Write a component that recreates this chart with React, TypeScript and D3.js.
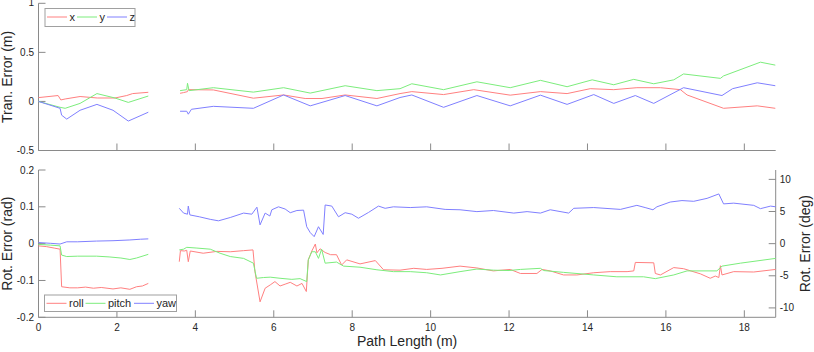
import React from "react";
import * as d3 from "d3";

type P = [number, number] | null;
const GAP: P = null;

// Translation error (m)
const tranX: P[] = [
  [0, 0.039], [0.5, 0.06], [0.57, 0.015], [0.68, 0.025], [1.06, 0.05], [1.5, 0.035], [1.95, 0.035], [2.25, 0.06], [2.4, 0.08], [2.8, 0.093],
  GAP,
  [3.61, 0.083], [3.7, 0.09], [3.8, 0.1], [3.82, 0.12], [4.46, 0.117], [5.48, 0.033], [6.25, 0.066], [6.8, 0.03], [7.23, 0.03], [7.82, 0.066],
  [8.63, 0.03], [9.22, 0.08], [9.52, 0.1], [10.33, 0.07], [11.1, 0.12], [12.03, 0.064], [12.8, 0.1], [13.48, 0.08], [14.07, 0.13], [14.67, 0.12],
  [15.26, 0.14], [15.86, 0.14], [16.37, 0.12], [16.54, 0.066], [17.47, -0.07], [18.33, -0.045], [18.79, -0.07],
];
const tranY: P[] = [
  [0, 0], [0.55, -0.06], [0.68, -0.07], [1.06, -0.02], [1.49, 0.08], [1.95, 0.035], [2.29, -0.01], [2.8, 0.055],
  GAP,
  [3.61, 0.11], [3.78, 0.12], [3.8, 0.185], [3.84, 0.11], [4.46, 0.14], [5.48, 0.095], [6.25, 0.14], [6.93, 0.085], [7.82, 0.16], [8.63, 0.11],
  [9.22, 0.13], [9.52, 0.18], [10.33, 0.12], [11.18, 0.2], [12.03, 0.14], [12.8, 0.215], [13.48, 0.15], [14.12, 0.22], [14.67, 0.17],
  [15.18, 0.225], [15.69, 0.18], [16.2, 0.22], [16.45, 0.28], [17.39, 0.235], [17.47, 0.26], [18.41, 0.4], [18.79, 0.37],
];
const tranZ: P[] = [
  [0, 0], [0.55, -0.07], [0.59, -0.14], [0.72, -0.18], [1.06, -0.09], [1.49, -0.03], [1.9, -0.09], [2.29, -0.2], [2.8, -0.11],
  GAP,
  [3.61, -0.1], [3.78, -0.1], [3.82, -0.13], [3.9, -0.08], [4.46, -0.05], [5.48, -0.07], [6.25, 0.066], [6.93, -0.045], [7.82, 0.06],
  [8.63, -0.045], [9.22, 0.04], [9.52, 0.066], [10.33, -0.06], [11.18, 0.06], [12.03, -0.045], [12.8, 0.064], [13.48, -0.03], [14.16, 0.07],
  [14.67, -0.02], [15.22, 0.06], [15.69, -0.02], [16.45, 0.14], [17.43, 0.06], [17.7, 0.13], [18.33, 0.19], [18.79, 0.16],
];

// Rotation error (rad)
const rotRoll: P[] = [
  [0, -0.006], [0.2, -0.008], [0.4, -0.012], [0.55, -0.015], [0.59, -0.117], [0.8, -0.12], [1.0, -0.12], [1.2, -0.118], [1.4, -0.121],
  [1.6, -0.119], [1.9, -0.123], [2.1, -0.12], [2.33, -0.124], [2.5, -0.117], [2.65, -0.115], [2.8, -0.108],
  GAP,
  [3.59, -0.049], [3.62, -0.019], [3.72, -0.02], [3.78, -0.018], [3.82, -0.049], [3.87, -0.02], [4.2, -0.026], [4.55, -0.021], [4.89, -0.022],
  [5.23, -0.019], [5.47, -0.017], [5.52, -0.076], [5.65, -0.158], [5.78, -0.121], [5.91, -0.112], [6.03, -0.103], [6.16, -0.115], [6.29, -0.11],
  [6.42, -0.105], [6.59, -0.115], [6.72, -0.108], [6.83, -0.13], [6.88, -0.044], [6.97, -0.02], [7.06, -0.001], [7.1, -0.025], [7.18, -0.014],
  [7.31, -0.024], [7.45, -0.03], [7.6, -0.03], [7.73, -0.058], [7.86, -0.044], [8.2, -0.055], [8.59, -0.046], [8.8, -0.071], [9.22, -0.072],
  [9.57, -0.067], [9.9, -0.07], [10.29, -0.067], [10.75, -0.061], [11.18, -0.066], [11.6, -0.074], [12.03, -0.07], [12.29, -0.081],
  [12.71, -0.081], [12.84, -0.07], [13.05, -0.074], [13.39, -0.085], [13.73, -0.085], [14.16, -0.079], [14.58, -0.076], [15.01, -0.076],
  [15.18, -0.074], [15.22, -0.051], [15.69, -0.052], [15.73, -0.081], [15.86, -0.085], [16.2, -0.065], [16.45, -0.068], [16.88, -0.082],
  [17.13, -0.094], [17.26, -0.088], [17.35, -0.092], [17.39, -0.06], [17.43, -0.085], [17.73, -0.076], [18.24, -0.077], [18.8, -0.07],
];
const rotPitch: P[] = [
  [0, -0.002], [0.3, -0.004], [0.55, -0.006], [0.59, -0.031], [0.72, -0.035], [1.0, -0.034], [1.48, -0.034], [1.8, -0.036], [2.1, -0.039],
  [2.33, -0.043], [2.5, -0.039], [2.8, -0.029],
  GAP,
  [3.59, -0.017], [3.7, -0.015], [3.78, -0.01], [4.04, -0.012], [4.38, -0.015], [4.63, -0.026], [4.89, -0.035], [5.23, -0.04], [5.48, -0.053],
  [5.56, -0.094], [5.74, -0.092], [5.91, -0.091], [6.16, -0.094], [6.46, -0.097], [6.67, -0.095], [6.84, -0.103], [6.88, -0.044], [6.97, -0.022],
  [7.06, -0.022], [7.14, -0.04], [7.22, -0.015], [7.31, -0.053], [7.6, -0.05], [7.78, -0.061], [8.2, -0.064], [8.63, -0.071], [9.05, -0.076],
  [9.48, -0.076], [9.9, -0.079], [10.25, -0.085], [10.75, -0.076], [11.18, -0.069], [11.6, -0.072], [12.0, -0.073], [12.29, -0.07],
  [12.8, -0.067], [12.88, -0.073], [13.39, -0.078], [14.16, -0.085], [14.75, -0.09], [15.43, -0.09], [15.73, -0.095], [16.2, -0.085],
  [16.54, -0.074], [17.3, -0.074], [17.43, -0.061], [17.9, -0.053], [18.8, -0.04],
];
const rotYaw: P[] = [
  [0, 0.003], [0.3, 0.001], [0.55, -0.001], [0.72, 0.005], [1.0, 0.005], [1.48, 0.007], [1.9, 0.008], [2.33, 0.01], [2.6, 0.012], [2.8, 0.013],
  GAP,
  [3.59, 0.096], [3.7, 0.083], [3.8, 0.08], [3.82, 0.102], [3.86, 0.078], [4.1, 0.073], [4.38, 0.066], [4.59, 0.062], [4.89, 0.071],
  [5.23, 0.083], [5.44, 0.08], [5.57, 0.099], [5.65, 0.051], [5.78, 0.083], [5.9, 0.075], [5.95, 0.092], [6.12, 0.1], [6.29, 0.094],
  [6.42, 0.084], [6.59, 0.09], [6.76, 0.091], [6.84, 0.046], [6.93, 0.03], [7.03, 0.019], [7.14, 0.046], [7.26, 0.025], [7.31, 0.105],
  [7.48, 0.102], [7.65, 0.073], [7.82, 0.084], [7.99, 0.08], [8.16, 0.069], [8.42, 0.085], [8.67, 0.102], [8.84, 0.096], [9.05, 0.1],
  [9.48, 0.098], [9.9, 0.1], [10.37, 0.093], [10.75, 0.092], [11.18, 0.087], [11.6, 0.09], [12.12, 0.083], [12.46, 0.087], [12.8, 0.083],
  [13.05, 0.092], [13.52, 0.083], [13.65, 0.096], [14.16, 0.098], [14.84, 0.093], [15.26, 0.104], [15.47, 0.098], [15.67, 0.092],
  [15.77, 0.1], [16.11, 0.113], [16.41, 0.117], [16.71, 0.115], [17.05, 0.123], [17.35, 0.135], [17.47, 0.108], [17.73, 0.11],
  [18.24, 0.104], [18.41, 0.095], [18.67, 0.102], [18.8, 0.1],
];

const xTicks = [0, 2, 4, 6, 8, 10, 12, 14, 16, 18];
const tranTicks = [-0.5, 0, 0.5, 1];
const radTicks = [-0.2, -0.1, 0, 0.1, 0.2];
const degTicks = [-10, -5, 0, 5, 10];
const tranLegend = ["x", "y", "z"];
const rotLegend = ["roll", "pitch", "yaw"];

const RED = "#ff8080";
const GREEN = "#7ced7c";
const BLUE = "#8080ff";
const AXIS = "#8a8a8a";
const TEXT = "#262626";
const FONT = "'Liberation Sans', Arial, Helvetica, sans-serif";

export default function App() {
  const L = 38.5, R = 775.7;
  const x = d3.scaleLinear().domain([0, 18.8]).range([L, R]);
  const yT = d3.scaleLinear().domain([-0.5, 1]).range([150.5, 3.3]);
  const yB = d3.scaleLinear().domain([-0.2, 0.2]).range([317.3, 170]);
  const degMax = (0.2 * 180) / Math.PI;
  const yD = d3.scaleLinear().domain([-degMax, degMax]).range([317.3, 170]);

  const lineT = d3.line<P>().defined((d) => d !== null).x((d) => x(d![0])).y((d) => yT(d![1]));
  const lineB = d3.line<P>().defined((d) => d !== null).x((d) => x(d![0])).y((d) => yB(d![1]));

  const tk = 7;
  const topBottom = yT(-0.5);
  const botBottom = yB(-0.2);

  const legendItems = (labels: string[], colors: string[], xs: number[], y: number) =>
    labels.map((lab, i) => (
      <g key={lab}>
        <line x1={xs[i]} x2={xs[i] + 20} y1={y} y2={y} stroke={colors[i]} strokeWidth={1} />
        <text x={xs[i] + 22.5} y={y + 4} fontSize={11} fill={TEXT}>{lab}</text>
      </g>
    ));

  return (
    <svg width={814} height={352} style={{ position: "absolute", left: 0, top: 0, background: "#fff" }} fontFamily={FONT}>
      <rect width={814} height={352} fill="#fff" />
      {/* Top panel axes */}
      <line x1={L} x2={L} y1={yT(1)} y2={topBottom} stroke={AXIS} />
      <line x1={L} x2={R} y1={topBottom} y2={topBottom} stroke={AXIS} />
      {xTicks.map((t) => (
        <line key={"tx" + t} x1={x(t)} x2={x(t)} y1={topBottom} y2={topBottom - tk} stroke={AXIS} />
      ))}
      {tranTicks.map((t) => (
        <g key={"ty" + t}>
          <line x1={L} x2={L + tk} y1={yT(t)} y2={yT(t)} stroke={AXIS} />
          <text x={L - 4.5} y={yT(t)} dy={t === 1 ? "0.3em" : "0.35em"} textAnchor="end" fontSize={10} fill={TEXT}>{String(t)}</text>
        </g>
      ))}
      <text transform={`translate(11.5, ${(yT(1) + topBottom) / 2}) rotate(-90)`} textAnchor="middle" fontSize={14} fill={TEXT}>
        Tran. Error (m)
      </text>
      <path d={lineT(tranX) || ""} fill="none" stroke={RED} strokeWidth={1} />
      <path d={lineT(tranY) || ""} fill="none" stroke={GREEN} strokeWidth={1} />
      <path d={lineT(tranZ) || ""} fill="none" stroke={BLUE} strokeWidth={1} />
      <rect x={45} y={8.5} width={90} height={18} fill="#fff" stroke="#a0a0a0" />
      {legendItems(tranLegend, [RED, GREEN, BLUE], [47, 77, 107], 17)}

      {/* Bottom panel axes */}
      <line x1={L} x2={L} y1={yB(0.2)} y2={botBottom} stroke={AXIS} />
      <line x1={R} x2={R} y1={yB(0.2)} y2={botBottom} stroke={AXIS} />
      <line x1={L} x2={R} y1={botBottom} y2={botBottom} stroke={AXIS} />
      {xTicks.map((t) => (
        <g key={"bx" + t}>
          <line x1={x(t)} x2={x(t)} y1={botBottom} y2={botBottom - tk} stroke={AXIS} />
          <text x={x(t)} y={331} textAnchor="middle" fontSize={10} fill={TEXT}>{String(t)}</text>
        </g>
      ))}
      {radTicks.map((t) => (
        <g key={"by" + t}>
          <line x1={L} x2={L + tk} y1={yB(t)} y2={yB(t)} stroke={AXIS} />
          <text x={L - 4.5} y={yB(t)} dy="0.35em" textAnchor="end" fontSize={10} fill={TEXT}>{String(t)}</text>
        </g>
      ))}
      {degTicks.map((t) => (
        <g key={"dy" + t}>
          <line x1={R} x2={R - tk} y1={yD(t)} y2={yD(t)} stroke={AXIS} />
          <text x={R + 4} y={yD(t)} dy="0.35em" textAnchor="start" fontSize={10} fill={TEXT}>{String(t)}</text>
        </g>
      ))}
      <text transform={`translate(11.5, ${(yB(0.2) + botBottom) / 2}) rotate(-90)`} textAnchor="middle" fontSize={14} fill={TEXT}>
        Rot. Error (rad)
      </text>
      <text transform={`translate(809.5, ${(yB(0.2) + botBottom) / 2}) rotate(-90)`} textAnchor="middle" fontSize={14} fill={TEXT}>
        Rot. Error (deg)
      </text>
      <text x={(L + R) / 2} y={346} textAnchor="middle" fontSize={14} fill={TEXT}>Path Length (m)</text>
      <path d={lineB(rotRoll) || ""} fill="none" stroke={RED} strokeWidth={1} />
      <path d={lineB(rotPitch) || ""} fill="none" stroke={GREEN} strokeWidth={1} />
      <path d={lineB(rotYaw) || ""} fill="none" stroke={BLUE} strokeWidth={1} />
      <rect x={44.5} y={295} width={132} height={16.5} fill="#fff" stroke="#a0a0a0" />
      {legendItems(rotLegend, [RED, GREEN, BLUE], [46.5, 85.5, 134], 303.3)}
    </svg>
  );
}
